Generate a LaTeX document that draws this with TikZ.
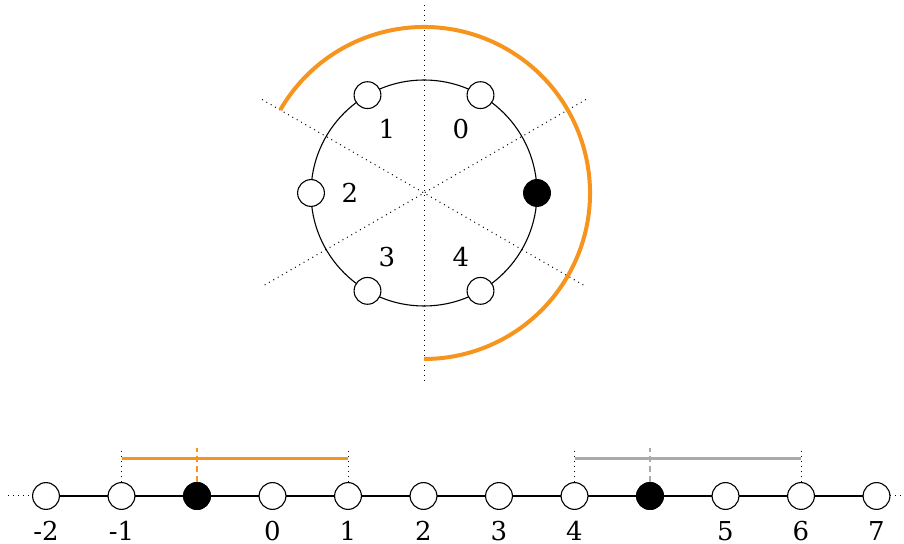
\documentclass[tikz,border=0pt]{standalone}
\usepackage{fontspec}
\setmainfont{DejaVu Serif}
\definecolor{myorange}{RGB}{247,148,29}
\definecolor{mygray}{RGB}{170,170,170}
\begin{document}
\begin{tikzpicture}[x=0.5pt,y=0.5pt,
  vtx/.style={circle,draw,fill=white,minimum size=13.4pt,inner sep=0pt,line width=0.55pt},
  blk/.style={vtx,fill=black},
  lbl/.style={font=\fontsize{13}{15}\selectfont,inner sep=0pt},
  guide/.style={dotted,line width=0.5pt},
  ring/.style={line width=0.55pt},
  orangearc/.style={line width=2pt,draw=myorange},
  orangebar/.style={line width=1.7pt,draw=myorange},
  graybar/.style={line width=1.6pt,draw=mygray},
  orangedash/.style={line width=1.2pt,draw=myorange,dash pattern=on 3pt off 2pt},
  graydash/.style={line width=1pt,draw=mygray,dash pattern=on 3pt off 2pt}]
\useasboundingbox (0,0) rectangle (904,-544);
% ---- circle part ----
\coordinate (C) at (424,-193);
\coordinate (v1) at ([shift={(90:188)}]C);
\coordinate (v2) at ([shift={(-90:188)}]C);
\coordinate (d1) at ([shift={(150:187)}]C);
\coordinate (d2) at ([shift={(-30:187)}]C);
\coordinate (d3) at ([shift={(30:187)}]C);
\coordinate (d4) at ([shift={(210:187)}]C);
\draw[guide] (v1) -- (v2);
\draw[guide] (d1) -- (d2);
\draw[guide] (d3) -- (d4);
\draw[ring] (C) circle[radius=56.5pt];
\coordinate (A0) at ([shift={(150:166)}]C);
\draw[orangearc] (A0) arc[start angle=150,end angle=-90,radius=83pt];
\node[blk] (c0) at ([shift={(0:113)}]C) {};
\foreach \a/\n in {60/1,120/2,180/3,240/4,300/5}{
  \node[vtx] (c\n) at ([shift={(\a:113)}]C) {};
}
\foreach \a/\t in {60/0,120/1,180/2,240/3,300/4}{
  \node[lbl] (s\t) at ([shift={(\a:74)}]C) {\t};
}
% ---- number line ----
\coordinate (L) at (8,-496);
\coordinate (R) at (902,-496);
\foreach \i in {0,...,11}{
  \node[vtx] (n\i) at (46+75.5*\i,-496) {};
}
\node[blk] (n2) at (46+75.5*2,-496) {};
\node[blk] (n8) at (46+75.5*8,-496) {};
\draw[guide] (L) -- (n0);
\draw[guide] (n11) -- (R);
\foreach \i [evaluate=\i as \j using int(\i+1)] in {0,...,10}{
  \draw[ring] (n\i) -- (n\j);
}
\foreach \i/\t in {0/-2,1/-1,3/0,4/1,5/2,6/3,7/4,9/5,10/6,11/7}{
  \node[lbl,anchor=base] (m\i) at ([yshift=-22pt]n\i.center) {\t};
}
% bars
\draw[guide] (n1.north) -- ([yshift=17pt]n1.north);
\draw[guide] (n4.north) -- ([yshift=17pt]n4.north);
\draw[orangebar] ([yshift=11.75pt]n1.north) -- ([yshift=11.75pt]n4.north);
\draw[orangedash] (n2.north) -- ([yshift=17pt]n2.north);
\draw[guide] (n7.north) -- ([yshift=17pt]n7.north);
\draw[guide] (n10.north) -- ([yshift=17pt]n10.north);
\draw[graybar] ([yshift=11.75pt]n7.north) -- ([yshift=11.75pt]n10.north);
\draw[graydash] (n8.north) -- ([yshift=17pt]n8.north);
\end{tikzpicture}
\end{document}
